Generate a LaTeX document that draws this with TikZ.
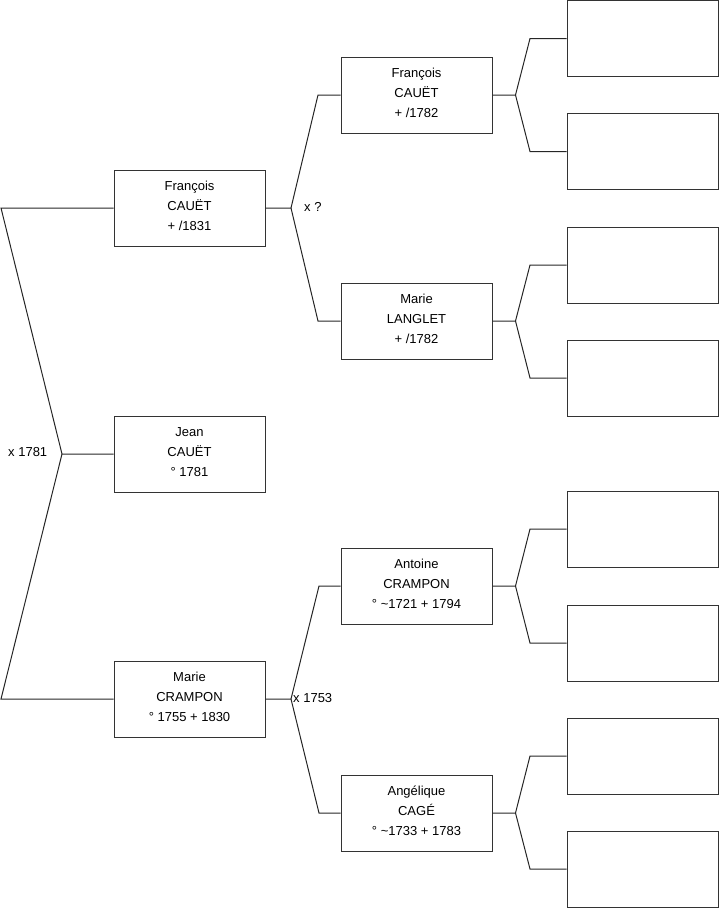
\documentclass[tikz,border=0pt]{standalone}
\usepackage{fontspec}
\setmainfont{Liberation Sans}
\begin{document}
\begin{tikzpicture}[x=1pt,y=-1pt,
  person/.style={draw=black!80,line width=1pt,minimum width=151pt,minimum height=76pt,inner sep=0pt,align=center,font=\fontsize{13}{20}\selectfont},
  link/.style={draw=black!85,line width=1pt},
  lbl/.style={anchor=west,inner sep=0pt,font=\fontsize{13}{15}\selectfont}]
\useasboundingbox (0,0) rectangle (719,908);
% generation 2
\node[person] (fr) at (189.5,208) {François\\CAUËT\\+ /1831\\[-16pt]};
\node[person] (je) at (189.5,454) {Jean\\CAUËT\\° 1781\\[-16pt]};
\node[person] (mc) at (189.5,699) {Marie\\CRAMPON\\° 1755 + 1830\\[-16pt]};
% generation 3
\node[person] (fr2) at (416.5,95) {François\\CAUËT\\+ /1782\\[-16pt]};
\node[person] (ml) at (416.5,321) {Marie\\LANGLET\\+ /1782\\[-16pt]};
\node[person] (an) at (416.5,586) {Antoine\\CRAMPON\\° \textasciitilde1721 + 1794\\[-16pt]};
\node[person] (ag) at (416.5,813) {Angélique\\CAGÉ\\° \textasciitilde1733 + 1783\\[-16pt]};
% generation 4
\node[person] (e1) at (642.5,38.5) {};
\node[person] (e2) at (642.5,151.5) {};
\node[person] (e3) at (642.5,265) {};
\node[person] (e4) at (642.5,378) {};
\node[person] (e5) at (642.5,529) {};
\node[person] (e6) at (642.5,643) {};
\node[person] (e7) at (642.5,756) {};
\node[person] (e8) at (642.5,869) {};
% gen1 fork
\coordinate (v0) at (62,454);
\coordinate (a0) at (1,208);
\coordinate (b0) at (1,699);
\draw[link] (je.west) -- (v0) -- (a0) -- (fr.west);
\draw[link] (v0) -- (b0) -- (mc.west);
\node[lbl] (m0) at (8,452) {x 1781};
% gen2 -> gen3
\coordinate (v1) at (291,208);
\coordinate (a1) at (318,95);
\coordinate (b1) at (318,321);
\draw[link] (fr.east) -- (v1) -- (a1) -- (fr2.west);
\draw[link] (v1) -- (b1) -- (ml.west);
\node[lbl] (m1) at (304,207) {x ?};
\coordinate (v2) at (291,699);
\coordinate (a2) at (319,586);
\coordinate (b2) at (319,813);
\draw[link] (mc.east) -- (v2) -- (a2) -- (an.west);
\draw[link] (v2) -- (b2) -- (ag.west);
\node[lbl] (m2) at (293,698) {x 1753};
% gen3 -> gen4
\foreach \p/\u/\d in {fr2/e1/e2, ml/e3/e4, an/e5/e6, ag/e7/e8}{
  \coordinate (\p v) at ([xshift=23pt]\p.east);
  \coordinate (\p a) at (530,0 |- \u.west);
  \coordinate (\p b) at (530,0 |- \d.west);
  \draw[link] (\p.east) -- (\p v) -- (\p a) -- (\u.west);
  \draw[link] (\p v) -- (\p b) -- (\d.west);
}
\end{tikzpicture}
\end{document}
